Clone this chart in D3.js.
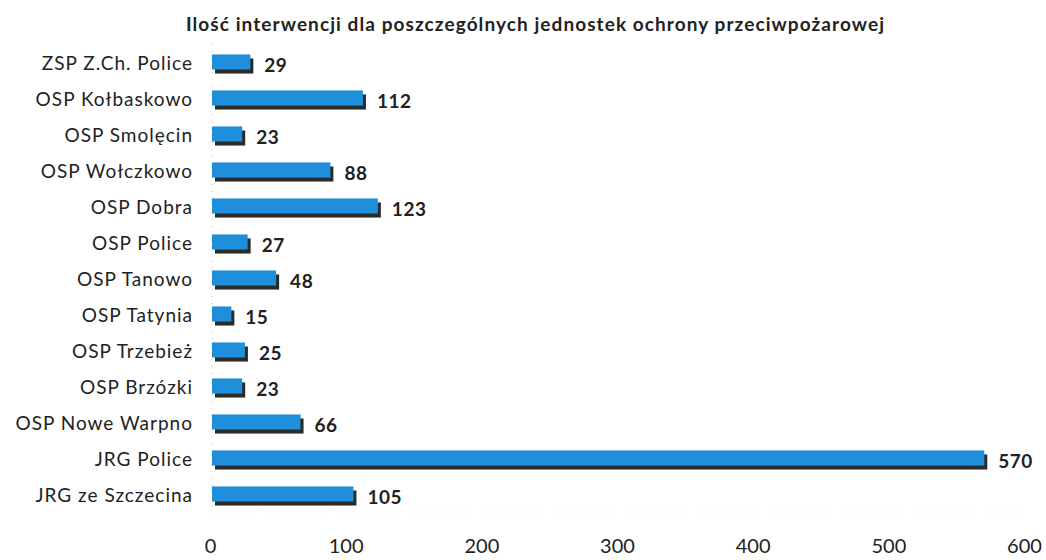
<!DOCTYPE html>
<html>
<head>
<meta charset="utf-8">
<script src="https://cdn.jsdelivr.net/npm/d3@7"></script>
<style>
  body { margin: 0; background: #fff; }
  text { font-family: Lato, "Open Sans", sans-serif; }
</style>
</head>
<body>
<script>
const width = 1046;
const height = 560;

const units = [
  'ZSP Z.Ch. Police',
  'OSP Kołbaskowo',
  'OSP Smolęcin',
  'OSP Wołczkowo',
  'OSP Dobra',
  'OSP Police',
  'OSP Tanowo',
  'OSP Tatynia',
  'OSP Trzebież',
  'OSP Brzózki',
  'OSP Nowe Warpno',
  'JRG Police',
  'JRG ze Szczecina'
];
const interventions = [29, 112, 23, 88, 123, 27, 48, 15, 25, 23, 66, 570, 105];
const ticks = [0, 100, 200, 300, 400, 500, 600];
const title = 'Ilość interwencji dla poszczególnych jednostek ochrony przeciwpożarowej';

const svg = d3.select('body')
  .append('svg')
  .attr('width', width)
  .attr('height', height);

const xScale = d3.scaleLinear()
  .domain([0, 600])
  .range([210, 1024]);

const yScale = d3.scaleBand()
  .domain(units)
  .range([44, 512])
  .paddingInner(0.58)
  .paddingOuter(0.29);

const rows = units.map(function (u, i) {
  return { name: u, value: interventions[i] };
});

svg.append('text')
  .attr('x', 535)
  .attr('y', 31)
  .attr('text-anchor', 'middle')
  .attr('font-size', '19px')
  .attr('font-weight', 'bold')
  .attr('textLength', 698)
  .attr('lengthAdjust', 'spacing')
  .attr('fill', '#222')
  .text(title);

// faint dotted axis lines
svg.append('line')
  .attr('x1', xScale(0) + 2).attr('x2', xScale(0) + 2)
  .attr('y1', 44).attr('y2', 512)
  .attr('stroke', '#bbb')
  .attr('stroke-dasharray', '1,6');
svg.append('line')
  .attr('x1', xScale(0)).attr('x2', xScale(600))
  .attr('y1', 512).attr('y2', 512)
  .attr('stroke', '#ccc')
  .attr('stroke-dasharray', '1,8');

// shadow
svg.selectAll('rect.shadow')
  .data(rows)
  .enter()
  .append('rect')
  .attr('class', 'shadow')
  .attr('x', xScale(0) + 5)
  .attr('y', function (d) { return yScale(d.name) + 4; })
  .attr('width', function (d) { return xScale(d.value) - xScale(0) - 1; })
  .attr('height', yScale.bandwidth())
  .attr('fill', '#2b2b2b');

svg.selectAll('rect.bar')
  .data(rows)
  .enter()
  .append('rect')
  .attr('class', 'bar')
  .attr('x', xScale(0) + 2)
  .attr('y', function (d) { return yScale(d.name); })
  .attr('width', function (d) { return xScale(d.value) - xScale(0) - 1; })
  .attr('height', yScale.bandwidth())
  .attr('fill', '#1f8fdc');

svg.selectAll('text.value')
  .data(rows)
  .enter()
  .append('text')
  .attr('class', 'value')
  .attr('x', function (d) { return xScale(d.value) + 15; })
  .attr('y', function (d) { return yScale(d.name) + yScale.bandwidth() / 2 + 3; })
  .attr('dy', '0.35em')
  .attr('font-size', '19px')
  .attr('font-weight', 'bold')
  .attr('letter-spacing', '0.5px')
  .attr('fill', '#222')
  .text(function (d) { return d.value; });

const yAxis = d3.axisLeft(yScale).tickSize(0).tickPadding(0);
svg.append('g')
  .attr('transform', 'translate(193, 2)')
  .call(yAxis)
  .call(function (g) { g.select('.domain').remove(); })
  .selectAll('text')
  .attr('font-size', '19px')
  .attr('letter-spacing', '1px')
  .attr('fill', '#222');

const xAxis = d3.axisBottom(xScale).tickValues(ticks).tickSize(0).tickPadding(0);
svg.append('g')
  .attr('transform', 'translate(0, 539)')
  .call(xAxis)
  .call(function (g) { g.select('.domain').remove(); })
  .selectAll('text')
  .attr('font-size', '20px')
  .attr('fill', '#222');
</script>
</body>
</html>
